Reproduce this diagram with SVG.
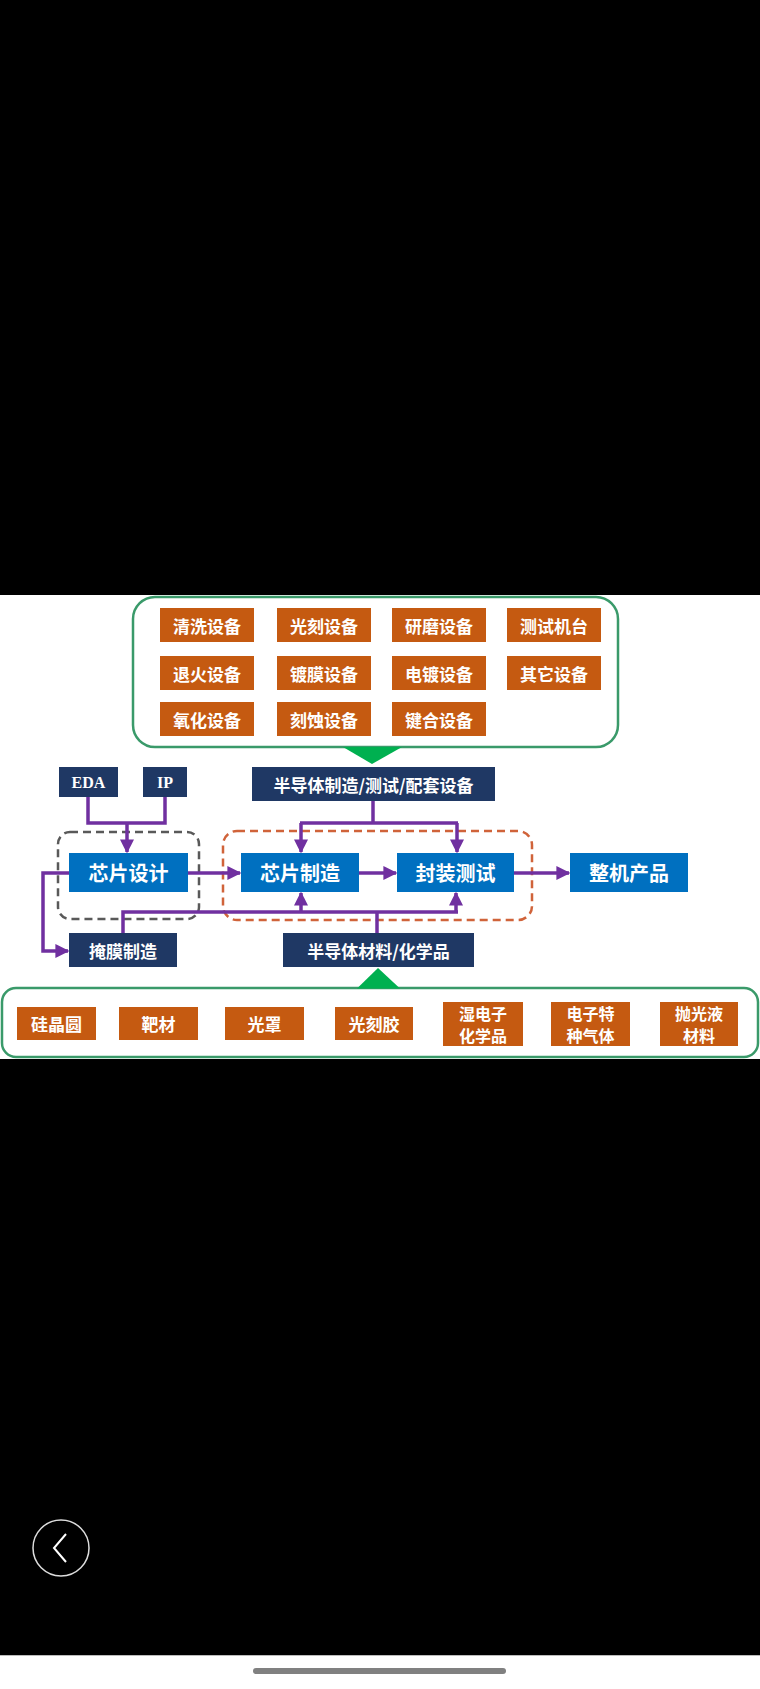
<svg xmlns="http://www.w3.org/2000/svg" width="760" height="1689" viewBox="0 0 760 1689">
<defs>
<style>
.or{fill:#C55A11}
.nv{fill:#1F3864}
.bl{fill:#0070C0}
.t{font-family:"Noto Sans CJK SC","Noto Sans",sans-serif;font-weight:bold;fill:#fff;text-anchor:middle;dominant-baseline:central}
.t18{font-size:17px}
.t16{font-size:16px}
.t20{font-size:20px}
.ts{font-family:"Liberation Serif",serif;font-weight:bold;font-size:16px;fill:#fff;text-anchor:middle;dominant-baseline:central}
.ln{fill:none;stroke:#7030A0;stroke-width:3.5}
.gb{fill:#fff;stroke:#3A9A6A;stroke-width:2.5}
</style>
<marker id="ah" viewBox="0 0 10 10" refX="9" refY="5" markerWidth="4" markerHeight="4" markerUnits="strokeWidth" orient="auto">
<path d="M0,0 L10,5 L0,10 Z" fill="#7030A0"/>
</marker>
</defs>
<rect x="0" y="0" width="760" height="1689" fill="#000"/>
<rect x="0" y="595" width="760" height="464" fill="#fff"/>
<rect x="0" y="1655" width="760" height="34" fill="#fff"/>
<line x1="0" y1="1655.5" x2="760" y2="1655.5" stroke="#bbb" stroke-width="1"/>
<rect x="253" y="1668" width="253" height="6" rx="3" fill="#808080"/>
<g id="back">
<circle cx="61" cy="1548" r="28" fill="none" stroke="#ddd" stroke-width="1.5"/>
<path d="M66,1534 L54,1548 L66,1562" fill="none" stroke="#fff" stroke-width="2"/>
</g>

<g id="equip-group">
<rect class="gb" x="133" y="597" width="485" height="150" rx="22"/>
<polygon points="343,747 402,747 372,764" fill="#00B050"/>
</g>
<g id="e1"><rect class="or" x="160" y="608" width="94" height="34"/><text class="t t18" x="207" y="625">清洗设备</text></g>
<g id="e2"><rect class="or" x="277" y="608" width="94" height="34"/><text class="t t18" x="324" y="625">光刻设备</text></g>
<g id="e3"><rect class="or" x="392" y="608" width="94" height="34"/><text class="t t18" x="439" y="625">研磨设备</text></g>
<g id="e4"><rect class="or" x="507" y="608" width="94" height="34"/><text class="t t18" x="554" y="625">测试机台</text></g>
<g id="e5"><rect class="or" x="160" y="656" width="94" height="34"/><text class="t t18" x="207" y="673">退火设备</text></g>
<g id="e6"><rect class="or" x="277" y="656" width="94" height="34"/><text class="t t18" x="324" y="673">镀膜设备</text></g>
<g id="e7"><rect class="or" x="392" y="656" width="94" height="34"/><text class="t t18" x="439" y="673">电镀设备</text></g>
<g id="e8"><rect class="or" x="507" y="656" width="94" height="34"/><text class="t t18" x="554" y="673">其它设备</text></g>
<g id="e9"><rect class="or" x="160" y="702" width="94" height="34"/><text class="t t18" x="207" y="719">氧化设备</text></g>
<g id="e10"><rect class="or" x="277" y="702" width="94" height="34"/><text class="t t18" x="324" y="719">刻蚀设备</text></g>
<g id="e11"><rect class="or" x="392" y="702" width="94" height="34"/><text class="t t18" x="439" y="719">键合设备</text></g>

<g id="design-frame"><rect x="58" y="832" width="141" height="87" rx="12" fill="none" stroke="#595959" stroke-width="2.5" stroke-dasharray="8,5"/></g>
<g id="fab-frame"><rect x="223" y="831" width="309" height="89" rx="14" fill="none" stroke="#D0633A" stroke-width="2.5" stroke-dasharray="8,5"/></g>

<g id="connectors">
<path class="ln" d="M88,797 V823 H165 V797"/>
<path class="ln" d="M127,823 V852" marker-end="url(#ah)"/>
<path class="ln" d="M373,801 V823"/>
<path class="ln" d="M300,823 H458"/>
<path class="ln" d="M301,823 V852" marker-end="url(#ah)"/>
<path class="ln" d="M457,823 V852" marker-end="url(#ah)"/>
<path class="ln" d="M188,873 H240" marker-end="url(#ah)"/>
<path class="ln" d="M359,873 H396" marker-end="url(#ah)"/>
<path class="ln" d="M514,873 H569" marker-end="url(#ah)"/>
<path class="ln" d="M69,873 H43 V951 H68" marker-end="url(#ah)"/>
<path class="ln" d="M123,933 V912 H458"/>
<path class="ln" d="M377,933 V912"/>
<path class="ln" d="M301,912 V893" marker-end="url(#ah)"/>
<path class="ln" d="M456,912 V893" marker-end="url(#ah)"/>
</g>

<g id="eda"><rect class="nv" x="59" y="767" width="59" height="30"/><text class="ts" x="88.5" y="782">EDA</text></g>
<g id="ip"><rect class="nv" x="143" y="767" width="44" height="30"/><text class="ts" x="165" y="782">IP</text></g>
<g id="equip"><rect class="nv" x="252" y="767" width="243" height="34"/><text class="t t18" x="373.5" y="784">半导体制造/测试/配套设备</text></g>
<g id="design"><rect class="bl" x="69" y="853" width="119" height="39"/><text class="t t20" x="128.5" y="872.5">芯片设计</text></g>
<g id="fab"><rect class="bl" x="241" y="853" width="118" height="39"/><text class="t t20" x="300" y="872.5">芯片制造</text></g>
<g id="pkg"><rect class="bl" x="397" y="853" width="117" height="39"/><text class="t t20" x="455.5" y="872.5">封装测试</text></g>
<g id="product"><rect class="bl" x="570" y="853" width="118" height="39"/><text class="t t20" x="629" y="872.5">整机产品</text></g>
<g id="mask"><rect class="nv" x="69" y="933" width="108" height="34"/><text class="t t18" x="123" y="950">掩膜制造</text></g>
<g id="mat"><rect class="nv" x="283" y="933" width="191" height="34"/><text class="t t18" x="378.5" y="950">半导体材料/化学品</text></g>

<g id="mat-group">
<rect class="gb" x="2" y="988" width="756" height="69" rx="14"/>
<polygon points="357,988.5 400,988.5 378,968" fill="#00B050"/>
</g>
<g id="m1"><rect class="or" x="17" y="1007" width="79" height="33"/><text class="t t18" x="56.5" y="1023.5">硅晶圆</text></g>
<g id="m2"><rect class="or" x="119" y="1007" width="79" height="33"/><text class="t t18" x="158.5" y="1023.5">靶材</text></g>
<g id="m3"><rect class="or" x="225" y="1007" width="79" height="33"/><text class="t t18" x="264.5" y="1023.5">光罩</text></g>
<g id="m4"><rect class="or" x="335" y="1007" width="78" height="33"/><text class="t t18" x="374" y="1023.5">光刻胶</text></g>
<g id="m5"><rect class="or" x="443" y="1002" width="80" height="44"/><text class="t t16" x="483" y="1013">湿电子</text><text class="t t16" x="483" y="1035">化学品</text></g>
<g id="m6"><rect class="or" x="551" y="1002" width="79" height="44"/><text class="t t16" x="590.5" y="1013">电子特</text><text class="t t16" x="590.5" y="1035">种气体</text></g>
<g id="m7"><rect class="or" x="660" y="1002" width="78" height="44"/><text class="t t16" x="699" y="1013">抛光液</text><text class="t t16" x="699" y="1035">材料</text></g>
</svg>
